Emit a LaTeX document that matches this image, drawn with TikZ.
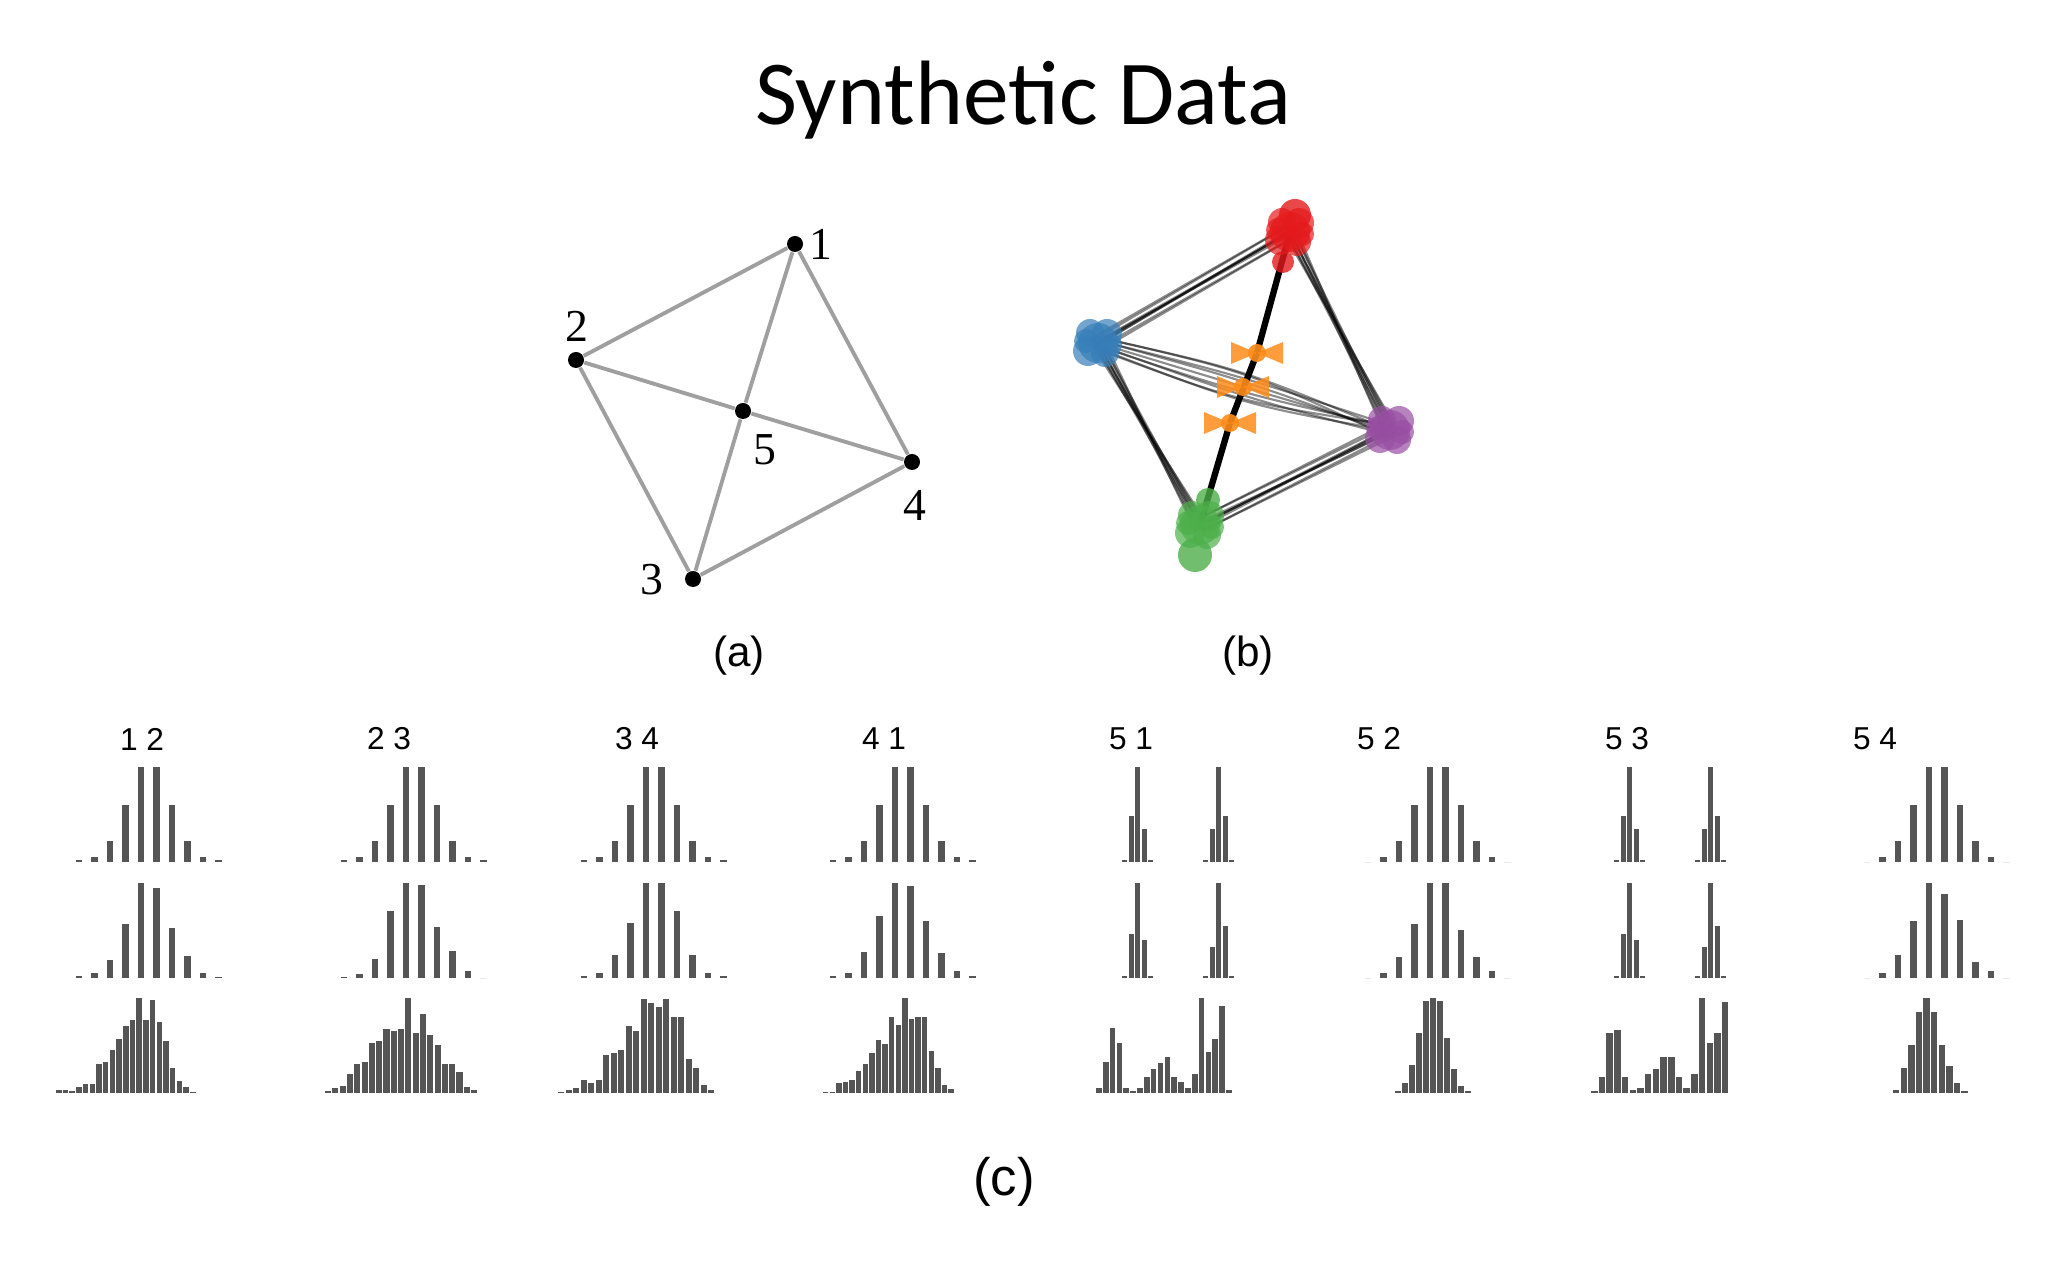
\documentclass[tikz,border=0pt]{standalone}
\usepackage{fontspec}
\usetikzlibrary{calc}
\setmainfont{Carlito}
\newfontfamily\serf{Liberation Serif}
\newfontfamily\arial{Liberation Sans}
\begin{document}
\begin{tikzpicture}[x=0.01cm,y=-0.01cm]
\tikzset{
 gedge/.style={draw=gray!75,line width=1.1pt},
 gdot/.style={circle,fill=black,inner sep=0pt,minimum size=0.16cm},
 glab/.style={font=\serf\fontsize{13}{13}\selectfont},
 plab/.style={font=\arial\fontsize{12}{12}\selectfont},
 hlab/.style={font=\arial\fontsize{9}{9}\selectfont},
 bedge/.style={draw=black,line width=0.6pt,opacity=0.45},
}
\definecolor{histc}{HTML}{555555}
\definecolor{cred}{HTML}{E41A1C}
\definecolor{cblue}{HTML}{377EB8}
\definecolor{cgreen}{HTML}{4DAF4A}
\definecolor{cpurple}{HTML}{984EA3}
\definecolor{corange}{HTML}{FF8C1A}
\useasboundingbox (0,0) rectangle (2048,1280);
\node[font=\fontsize{26}{26}\selectfont] (title) at (1023,100) {Synthetic Data};
% (a)
\node[gdot] (n1) at (795,244) {};
\node[gdot] (n2) at (576,360) {};
\node[gdot] (n5) at (743,411) {};
\node[gdot] (n4) at (912,462) {};
\node[gdot] (n3) at (693,579) {};
\foreach \a/\b in {n1/n2,n1/n5,n1/n4,n2/n5,n5/n4,n2/n3,n3/n5,n3/n4}
  \draw[gedge] (\a) -- (\b);
\node[glab] (l1) at (821,244) {1};
\node[glab] (l2) at (577,326) {2};
\node[glab] (l5) at (765,450) {5};
\node[glab] (l4) at (915,505) {4};
\node[glab] (l3) at (652,580) {3};
\node[plab] (ca) at (739,656) {(a)};
\node[plab] (cb) at (1248,656) {(b)};
\node[font=\arial\fontsize{15}{15}\selectfont] (cc) at (1004,1182) {(c)};
% (b)
\coordinate (R) at (1290,232);
\coordinate (B) at (1098,343);
\coordinate (P) at (1390,430);
\coordinate (G) at (1200,525);
\coordinate (O1) at (1257,353);
\coordinate (O2) at (1243,387);
\coordinate (O3) at (1230,423);
\foreach \dx/\dy in {-6/-4,-3/2,0/0,3/-2,6/4,2/6,-2/-6,-4/5,5/-5} {
  \draw[bedge] ($(R)+(\dx,\dy)$) -- ($(B)+(\dy,\dx)$);
  \draw[bedge] ($(R)+(\dx,\dy)$) -- ($(P)+(\dy,\dx)$);
  \draw[bedge] ($(B)+(\dx,\dy)$) -- ($(G)+(\dy,\dx)$);
  \draw[bedge] ($(G)+(\dx,\dy)$) -- ($(P)+(\dy,\dx)$);
  \draw[bedge] ($(B)+(\dx,\dy)$) .. controls ($(O2)+(\dx,3*\dy)$) .. ($(P)+(\dy,\dx)$);
}
\draw[black,line width=1.8pt] (R) -- (O1) -- (O3) -- (G);
\foreach \c/\p in {cred/R,cblue/B,cpurple/P,cgreen/G} {
  \foreach \dx/\dy/\r in {0/0/20,-10/8/15,9/-9/15,7/10/14,-8/-10/14,12/2/12,-12/-2/12}
    \fill[\c,opacity=0.7] ($(\p)+(\dx,\dy)$) circle (\r);
}
\fill[cred,opacity=0.8] (1295,215) circle (16);
\fill[cred,opacity=0.8] (1283,262) circle (11);
\fill[cgreen,opacity=0.8] (1195,555) circle (17);
\fill[cgreen,opacity=0.8] (1208,500) circle (12);
\foreach \o in {O1,O2,O3} {
  \fill[corange,opacity=0.85] (\o) -- ($(\o)+(-26,-11)$) -- ($(\o)+(-26,11)$) -- cycle;
  \fill[corange,opacity=0.85] (\o) -- ($(\o)+(26,-11)$) -- ($(\o)+(26,11)$) -- cycle;
  \fill[corange,opacity=0.9] (\o) circle (9);
}
% (c) histograms
\newcommand\histo[5]{\foreach \h [count=\i] in {#5}
  \fill[histc] ({#1+(\i-1)*#3},#2) rectangle ({#1+\i*#3-1.2},{#2-\h*#4});}
\newcommand\spar[3]{\foreach \h [count=\i] in {#3}
  \fill[histc] ({#1-77.5+\i*15.5-3.2},#2) rectangle ({#1-77.5+\i*15.5+3.2},{#2-\h*95});}
\foreach \lx/\t in {142/1 2,389/2 3,637/3 4,884/4 1,1131/5 1,1379/5 2,1627/5 3,1875/5 4}
  \node[hlab] at (\lx,739) {\t};
% gaussian columns
\spar{141}{862}{.02,.05,.22,.6,1,1,.6,.22,.05,.02}
\spar{141}{978}{.02,.05,.19,.57,1,.95,.53,.23,.05,.01}
\spar{406}{862}{.02,.05,.22,.6,1,1,.6,.22,.05,.02}
\spar{406}{978}{.01,.04,.2,.7,1,.98,.54,.28,.07,0}
\spar{646}{862}{.02,.05,.22,.6,1,1,.6,.22,.05,.02}
\spar{646}{978}{.02,.05,.24,.58,1,1,.7,.24,.05,.02}
\spar{895}{862}{.02,.05,.22,.6,1,1,.6,.22,.05,.02}
\spar{895}{978}{.02,.05,.27,.65,1,.97,.6,.26,.07,.02}
\spar{1430}{862}{0,.05,.22,.6,1,1,.6,.22,.05,0}
\spar{1430}{978}{0,.05,.22,.57,1,1,.51,.22,.07,0}
\spar{1929}{862}{0,.05,.22,.6,1,1,.6,.22,.05,0}
\spar{1929}{978}{0,.05,.24,.6,1,.88,.61,.17,.07,0}
% bimodal columns
\foreach \cx in {1122,1614} {
  \histo{\cx}{862}{6.5}{95}{.02,.48,1,.35,.02}
  \histo{\cx+81}{862}{6.5}{95}{.02,.35,1,.48,.02}
  \histo{\cx}{978}{6.5}{95}{.02,.46,1,.4,.02}
  \histo{\cx+81}{978}{6.5}{95}{.02,.33,1,.55,.02}
}
% row 3
\histo{56}{1093}{6.7}{95}{.03,.03,.02,.06,.09,.09,.3,.33,.45,.57,.7,.77,1,.77,.98,.75,.55,.26,.13,.06,.01}
\histo{325}{1093}{7.3}{95}{.02,.05,.07,.2,.3,.33,.53,.55,.67,.65,.67,1,.63,.83,.61,.5,.3,.3,.22,.06,.03}
\histo{558}{1093}{7.5}{95}{.01,.03,.05,.14,.1,.14,.4,.42,.45,.7,.65,.99,.95,.9,.99,.8,.8,.36,.26,.08,.03}
\histo{823}{1093}{6.6}{95}{.01,.01,.1,.12,.14,.23,.3,.42,.56,.52,.8,.72,1,.78,.8,.8,.44,.26,.08,.04}
\histo{1096}{1093}{6.85}{95}{.05,.33,.68,.53,.05,.02,.05,.17,.25,.32,.38,.17,.12,.05,.2,1,.43,.57,.92,.03}
\histo{1395}{1093}{7}{95}{.02,.1,.29,.63,.97,1,.97,.58,.25,.07,.02}
\histo{1591}{1093}{7.7}{95}{.02,.17,.63,.66,.17,.03,.05,.2,.25,.38,.38,.17,.05,.2,1,.53,.63,.96}
\histo{1893}{1093}{7.6}{95}{.03,.26,.5,.85,1,.85,.5,.28,.1,.02}
\end{tikzpicture}
\end{document}
